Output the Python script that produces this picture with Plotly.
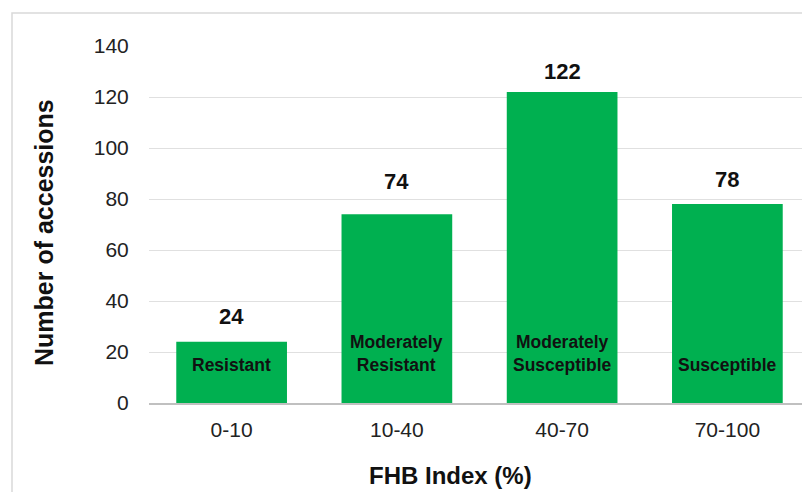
import plotly.graph_objects as go

categories = ["0-10", "10-40", "40-70", "70-100"]
counts = [24, 74, 122, 78]
classes = ["Resistant", "Moderately<br>Resistant", "Moderately<br>Susceptible", "Susceptible"]
y_ticks = [0, 20, 40, 60, 80, 100, 120, 140]

# the page body adds an 8px margin; size the figure so it fills the 810x492 view
OFF = 8
W, H = 810 - OFF, 492 - OFF
ML, MR, MT = 149 - OFF, 0, 46 - OFF
ZERO_Y = 403 - OFF
MB = H - ZERO_Y
PW, PH = W - ML - MR, H - MT - MB
FONT = "Arial, Liberation Sans, sans-serif"
GREEN = "#00B050"


def px_x(x):  # reference pixel -> paper x
    return (x - OFF - ML) / PW


def px_y(y):  # reference pixel -> paper y
    return (ZERO_Y - (y - OFF)) / PH


fig = go.Figure()
fig.add_trace(go.Bar(x=categories, y=counts, marker=dict(color=GREEN, line=dict(width=0)),
                     hoverinfo="skip"))

value_shift = [25, 33, 20, 25]
annotations = []
for c, v, s in zip(categories, counts, value_shift):
    annotations.append(dict(x=c, y=v, xref="x", yref="y", text=f"<b>{v}</b>", showarrow=False,
                            yanchor="middle", yshift=s, font=dict(family=FONT, size=22, color="#111")))
for c, t in zip(categories, classes):
    annotations.append(dict(x=c, y=0, xref="x", yref="y", text=f"<b>{t}</b>", showarrow=False,
                            yanchor="bottom", yshift=26, font=dict(family=FONT, size=17.5, color="#111")))
# axis titles
annotations.append(dict(x=px_x(450), y=px_y(475), xref="paper", yref="paper",
                        text="<b>FHB Index (%)</b>", showarrow=False, xanchor="center", yanchor="middle",
                        font=dict(family=FONT, size=24, color="#111")))
annotations.append(dict(x=px_x(44), y=px_y(233), xref="paper", yref="paper",
                        text="<b>Number of accessions</b>", showarrow=False, textangle=-90,
                        xanchor="center", yanchor="middle",
                        font=dict(family=FONT, size=25, color="#111")))

border = dict(type="rect", xref="paper", yref="paper",
              x0=px_x(12), x1=px_x(830), y0=px_y(520), y1=px_y(13),
              line=dict(color="#d9d9d9", width=1.5), fillcolor="rgba(0,0,0,0)", layer="below")

fig.update_layout(
    width=W, height=H, margin=dict(l=ML, r=MR, t=MT, b=MB),
    paper_bgcolor="white", plot_bgcolor="white",
    bargap=0.33, showlegend=False,
    annotations=annotations, shapes=[border],
    font=dict(family=FONT),
)
fig.update_xaxes(showgrid=False, showline=True, linecolor="#c0c0c0", linewidth=1.5,
                 ticks="outside", ticklen=7, tickcolor="rgba(0,0,0,0)",
                 tickfont=dict(family=FONT, size=21, color="#222"))
fig.update_yaxes(range=[0, 140], tickvals=y_ticks, showgrid=True, gridcolor="#e0e0e0", gridwidth=1.2,
                 zeroline=False, showline=False,
                 ticks="outside", ticklen=15, tickcolor="rgba(0,0,0,0)",
                 tickfont=dict(family=FONT, size=21, color="#222"))

fig.write_html("out.html")
